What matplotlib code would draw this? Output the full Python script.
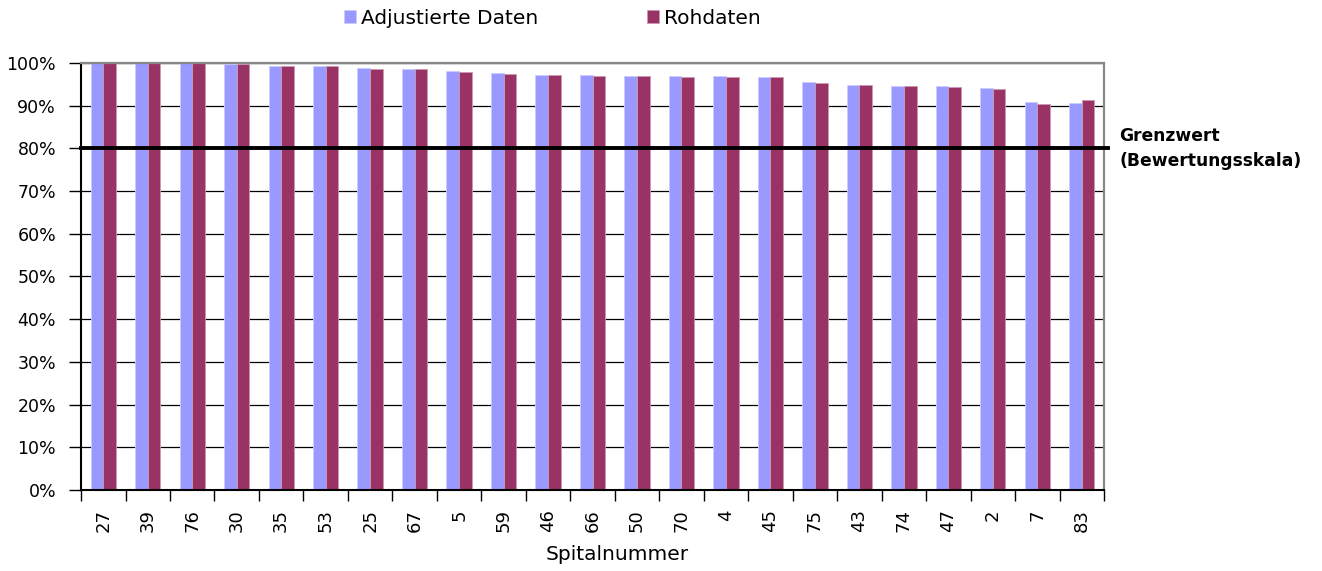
import numpy as np
import matplotlib.pyplot as plt
from matplotlib.ticker import FixedLocator, PercentFormatter

spitaeler = ["27", "39", "76", "30", "35", "53", "25", "67", "5", "59", "46", "66",
             "50", "70", "4", "45", "75", "43", "74", "47", "2", "7", "83"]
adjustiert = [100.0, 100.0, 100.0, 99.8, 99.3, 99.3, 98.8, 98.6, 98.1, 97.6, 97.2, 97.1,
              97.0, 97.0, 96.9, 96.7, 95.5, 94.8, 94.7, 94.6, 94.2, 90.8, 90.6]
rohdaten = [100.0, 100.0, 100.0, 99.8, 99.3, 99.2, 98.6, 98.6, 98.0, 97.4, 97.2, 97.0,
            96.9, 96.7, 96.7, 96.7, 95.3, 94.9, 94.5, 94.3, 93.8, 90.4, 91.3]
grenzwert = 80

plt.rcParams['font.family'] = ['DejaVu Sans']

fig = plt.figure(figsize=(13.22, 5.71), dpi=100)
ax = fig.add_axes([0.0613, 0.1419, 0.7738, 0.7478])

x = np.arange(len(spitaeler))
w = 0.285
ax.bar(x - w/2, adjustiert, w, color='#9999FF', edgecolor='#ccccff', lw=0.6,
       label='Adjustierte Daten', zorder=2)
ax.bar(x + w/2, rohdaten, w, color='#993366', edgecolor='#cc99b3', lw=0.6,
       label='Rohdaten', zorder=2)

# Grenzwert-Linie, ragt leicht über die rechte Achse hinaus
ax.plot([-0.5, len(spitaeler) - 0.4], [grenzwert, grenzwert], color='k', lw=2.8,
        zorder=3, clip_on=False)
ax.text(len(spitaeler) - 0.15, grenzwert, "Grenzwert\n(Bewertungsskala)", fontsize=12.3,
        fontweight='bold', va='center', ha='left', linespacing=1.55)

ax.set_xlim(-0.5, len(spitaeler) - 0.5)
ax.set_ylim(0, 100)
ax.set_yticks(np.arange(0, 101, 10))
ax.yaxis.set_major_formatter(PercentFormatter(decimals=0))
ax.grid(axis='y', color='k', lw=0.9, zorder=0)

ax.set_xticks(x)
ax.set_xticklabels(spitaeler, rotation=90, fontsize=13)
ax.tick_params(axis='x', which='major', length=0, pad=14)
ax.xaxis.set_minor_locator(FixedLocator(np.arange(-0.5, len(spitaeler), 1)))
ax.tick_params(axis='x', which='minor', length=8, width=1, direction='out')
ax.tick_params(axis='y', length=9, width=1, labelsize=12.5, pad=9)

for s in ['top', 'right']:
    ax.spines[s].set_color('#888888')
    ax.spines[s].set_linewidth(1.6)
for s in ['left', 'bottom']:
    ax.spines[s].set_color('k')
    ax.spines[s].set_linewidth(1.5)

ax.set_xlabel("Spitalnummer", fontsize=14.5)
ax.xaxis.set_label_coords((617 - 81) / 1023, -0.152)
ax.xaxis.label.set_va('center')

ax.legend(loc='center', bbox_to_anchor=(0.461, 1.105), ncol=2, frameon=False,
          fontsize=14.5, handlelength=0.6, handleheight=0.6, handletextpad=0.25,
          columnspacing=5.4, borderaxespad=0, borderpad=0)

fig.savefig("out.png", dpi=100)
